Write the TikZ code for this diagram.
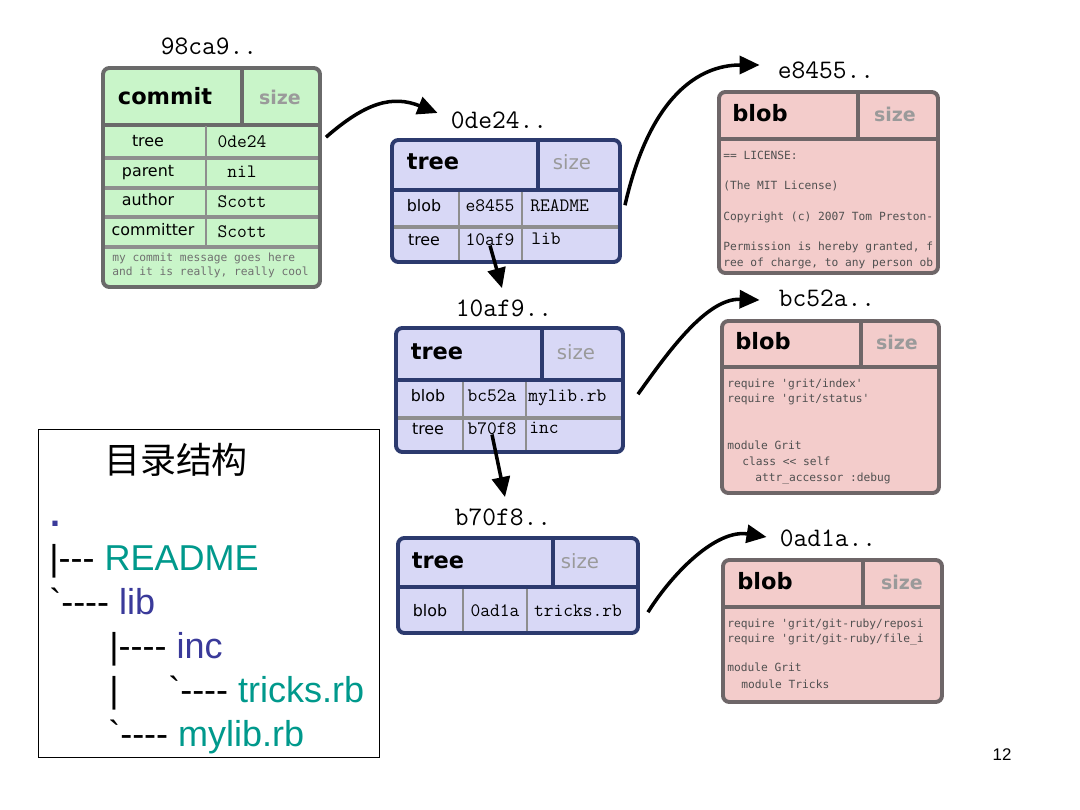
\documentclass[tikz,border=0pt]{standalone}
\usepackage{fontspec}
\usepackage{xcolor}
\usetikzlibrary{arrows.meta, fit, calc}
\newfontfamily\dejavu{DejaVu Sans}
\newfontfamily\codefont{DejaVu Sans Mono}[Ligatures=TeXOff]
\newfontfamily\arialfont{Liberation Sans}
\newfontfamily\dirfont{Liberation Sans}[Ligatures=TeXOff]
\newfontfamily\cjkfont{Noto Sans CJK SC}
\newcommand\setsz[1]{\fontsize{#1pt}{#1pt}\selectfont}
\definecolor{commitfill}{HTML}{C9F5C9}
\definecolor{commitline}{HTML}{6A6A6A}
\definecolor{rowgray}{HTML}{8E8E8E}
\definecolor{treefill}{HTML}{D8D8F6}
\definecolor{treeline}{HTML}{2C3A6E}
\definecolor{blobfill}{HTML}{F3CCCB}
\definecolor{blobline}{HTML}{6E6668}
\definecolor{sizegray}{HTML}{9A9A9A}
\definecolor{codegray}{HTML}{505050}
\definecolor{msggray}{HTML}{707070}
\definecolor{dirteal}{HTML}{00998C}
\definecolor{dirblue}{HTML}{3A3A9A}
\tikzset{
  objbox/.style={line width=2.8pt, rounded corners=1.6mm, inner sep=0pt},
  commitbox/.style={objbox, draw=commitline, fill=commitfill},
  treebox/.style={objbox, draw=treeline, fill=treefill},
  blobbox/.style={objbox, draw=blobline, fill=blobfill},
  commitsep/.style={draw=commitline, line width=2.8pt},
  treesep/.style={draw=treeline, line width=2.8pt},
  blobsep/.style={draw=blobline, line width=2.8pt},
  rowline/.style={draw=rowgray, line width=2.2pt},
  colline/.style={draw=rowgray, line width=0.9pt},
  txt/.style={inner sep=0pt, anchor=mid},
  hdr/.style={txt, font=\dejavu\bfseries\setsz{16}},
  sizetag/.style={txt, font=\dejavu\bfseries\setsz{13.5}, text=sizegray},
  sizetaglight/.style={txt, font=\dejavu\setsz{14}, text=sizegray},
  fieldtag/.style={txt, font=\dejavu\setsz{11.3}},
  hashval/.style={txt, font=\ttfamily\setsz{13.5}},
  hashlbl/.style={txt, font=\ttfamily\setsz{19}},
  codeline/.style={txt, anchor=mid west, font=\codefont\setsz{8}, text=codegray},
  dirline/.style={inner sep=0pt, anchor=base west, font=\dirfont\setsz{25.6}},
  ptr/.style={-{Triangle[length=5mm, width=4.5mm]}, line width=2.5pt, black},
}

\begin{document}
\begin{tikzpicture}[x=0.25mm, y=-0.25mm]
  \useasboundingbox (0,0) rectangle (1080,810);

  % commit 98ca9
  \node[hashlbl] (h98ca9) at (209,51) {98ca9..};
  \node[commitbox, fit={(103,68) (320,287)}] (commit) {};
  \draw[commitsep] (105,125) -- (318,125);
  \draw[commitsep] (242,70) -- (242,125);
  \foreach \y in {158,188,217,247}
    \draw[rowline] (105,\y) -- (318,\y);
  \draw[colline] (206,126) -- (206,246);
  \node[hdr] (c-title) at (165,101) {commit};
  \node[sizetag] (c-size) at (280,101) {size};
  \node[fieldtag] (c-tree-k) at (148,143) {tree};
  \node[fieldtag] (c-parent-k) at (148,173) {parent};
  \node[fieldtag] (c-author-k) at (148,202) {author};
  \node[fieldtag] (c-committer-k) at (153,232) {committer};
  \node[hashval] (c-tree) at (242,144) {0de24};
  \node[hashval] (c-parent) at (242,174) {nil};
  \node[hashval] (c-author) at (242,204) {Scott};
  \node[hashval] (c-committer) at (242,234) {Scott};
  \node[codeline, text=msggray] (c-msg1) at (112,258) {my commit message goes here};
  \node[codeline, text=msggray] (c-msg2) at (112,272) {and it is really, really cool};

  % tree 0de24
  \node[hashlbl] (h0de24) at (499,125) {0de24..};
  \node[treebox, fit={(392,140) (620,262)}] (t0de24) {};
  \draw[treesep] (394,190) -- (618,190);
  \draw[treesep] (538,142) -- (538,190);
  \draw[rowline] (394,227) -- (618,227);
  \draw[colline] (459,192) -- (459,260) (522,192) -- (522,260);
  \node[hdr] (t1-title) at (433,166) {tree};
  \node[sizetaglight] (t1-size) at (572,166) {size};
  \node[fieldtag] (t1-k1) at (424,208) {blob};
  \node[hashval] (t1-e8455) at (490,208) {e8455};
  \node[hashval, anchor=mid west] (t1-n1) at (530,208) {README};
  \node[fieldtag] (t1-k2) at (424,242) {tree};
  \node[hashval] (t1-10af9) at (490,242) {10af9};
  \node[hashval, anchor=mid west] (t1-n2) at (531,241) {lib};

  % tree 10af9
  \node[hashlbl] (h10af9) at (504,313) {10af9..};
  \node[treebox, fit={(396,328) (623,452)}] (t10af9) {};
  \draw[treesep] (398,380) -- (621,380);
  \draw[treesep] (542,330) -- (542,380);
  \draw[rowline] (398,418) -- (621,418);
  \draw[colline] (463,382) -- (463,450) (526,382) -- (526,450);
  \node[hdr] (t2-title) at (437,356) {tree};
  \node[sizetaglight] (t2-size) at (576,356) {size};
  \node[fieldtag] (t2-k1) at (428,398) {blob};
  \node[hashval] (t2-bc52a) at (492,398) {bc52a};
  \node[hashval, anchor=mid west] (t2-n1) at (528,398) {mylib.rb};
  \node[fieldtag] (t2-k2) at (428,431) {tree};
  \node[hashval] (t2-b70f8) at (492,431) {b70f8};
  \node[hashval, anchor=mid west] (t2-n2) at (529,430) {inc};

  % tree b70f8
  \node[hashlbl] (hb70f8) at (503,522) {b70f8..};
  \node[treebox, fit={(398,538) (638,633)}] (tb70f8) {};
  \draw[treesep] (400,587) -- (636,587);
  \draw[treesep] (553,540) -- (553,587);
  \draw[colline] (463,589) -- (463,631) (527,589) -- (527,631);
  \node[hdr] (t3-title) at (438,565) {tree};
  \node[sizetaglight] (t3-size) at (580,565) {size};
  \node[fieldtag] (t3-k1) at (430,613) {blob};
  \node[hashval] (t3-0ad1a) at (495,613) {0ad1a};
  \node[hashval] (t3-n1) at (578,613) {tricks.rb};

  % blob e8455
  \node[hashlbl] (he8455) at (826,75) {e8455..};
  \node[blobbox, fit={(719,92) (938,273)}] (be8455) {};
  \draw[blobsep] (721,139) -- (936,139);
  \draw[blobsep] (858,94) -- (858,139);
  \node[hdr] (b1-title) at (760,118) {blob};
  \node[sizetag] (b1-size) at (895,118) {size};
  \node[codeline] (b1-l1) at (723,156) {== LICENSE:};
  \node[codeline] (b1-l2) at (723,186) {(The MIT License)};
  \node[codeline] (b1-l3) at (723,217) {Copyright (c) 2007 Tom Preston-};
  \node[codeline] (b1-l4) at (723,247) {Permission is hereby granted, f};
  \node[codeline] (b1-l5) at (723,263) {ree of charge, to any person ob};

  % blob bc52a
  \node[hashlbl] (hbc52a) at (827,303) {bc52a..};
  \node[blobbox, fit={(722,321) (939,493)}] (bbc52a) {};
  \draw[blobsep] (724,367) -- (937,367);
  \draw[blobsep] (861,323) -- (861,367);
  \node[hdr] (b2-title) at (763,346) {blob};
  \node[sizetag] (b2-size) at (897,346) {size};
  \node[codeline] (b2-l1) at (727,384) {require 'grit/index'};
  \node[codeline] (b2-l2) at (727,399) {require 'grit/status'};
  \node[codeline] (b2-l3) at (727,446) {module Grit};
  \node[codeline] (b2-l4) at (742,462) {class << self};
  \node[codeline] (b2-l5) at (755,478) {attr\_accessor :debug};

  % blob 0ad1a
  \node[hashlbl] (h0ad1a) at (828,543) {0ad1a..};
  \node[blobbox, fit={(723,560) (942,702)}] (b0ad1a) {};
  \draw[blobsep] (725,607) -- (940,607);
  \draw[blobsep] (863,562) -- (863,607);
  \node[hdr] (b3-title) at (765,586) {blob};
  \node[sizetag] (b3-size) at (902,586) {size};
  \node[codeline] (b3-l1) at (727,624) {require 'grit/git-ruby/reposi};
  \node[codeline] (b3-l2) at (727,639) {require 'grit/git-ruby/file\_i};
  \node[codeline] (b3-l3) at (727,668) {module Grit};
  \node[codeline] (b3-l4) at (741,685) {module Tricks};

  % pointers
  \draw[ptr] ($(commit.east |- c-tree)+(4,-4)$) .. controls +(40,-35) and +(-45,-18) .. ([shift={(-13,-12)}]h0de24.mid west);
  \draw[ptr] ($(t0de24.east |- t1-e8455)+(3,0)$) .. controls +(25,-110) and +(-60,0) .. ([shift={(-18,-10)}]he8455.mid west);
  \draw[ptr] (t1-10af9.south) -- ([shift={(-2,-11)}]h10af9.north);
  \draw[ptr] ($(t10af9.east |- t2-bc52a)+(13,-1)$) .. controls +(30,-42) and +(-53,-2) .. ([shift={(-19,-3)}]hbc52a.mid west);
  \draw[ptr] (t2-b70f8.south) -- ([shift={(2,-11)}]hb70f8.north);
  \draw[ptr] ($(tb70f8.east |- t3-0ad1a)+(8,2)$) .. controls +(25,-40) and +(-50,-8) .. ([shift={(-13,-6)}]h0ad1a.mid west);

  % directory layout
  \node[draw=black, line width=0.6pt, fill=white, inner sep=0pt, fit={(38,429) (379,757)}] (dirbox) {};
  \node[inner sep=0pt, font=\cjkfont\setsz{25.6}] (dirtitle) at (176,460) {目录结构};
  \node[dirline] (d-root) at (50,526) {\textcolor{dirblue}{\bfseries .}};
  \node[dirline] (d-readme) at (49,570) {|--- \textcolor{dirteal}{README}};
  \node[dirline] (d-lib) at (49,614) {\textasciigrave---- \textcolor{dirblue}{lib}};
  \node[dirline] (d-inc) at (109,658) {|---- \textcolor{dirblue}{inc}};
  \node[dirline] (d-bar) at (109,702) {|};
  \node[dirline] (d-tricks) at (168,702) {\textasciigrave---- \textcolor{dirteal}{tricks.rb}};
  \node[dirline] (d-mylib) at (108,746) {\textasciigrave---- \textcolor{dirteal}{mylib.rb}};

  \node[inner sep=0pt, font=\arialfont\setsz{12}] (pagenum) at (1002,755) {12};
\end{tikzpicture}
\end{document}
